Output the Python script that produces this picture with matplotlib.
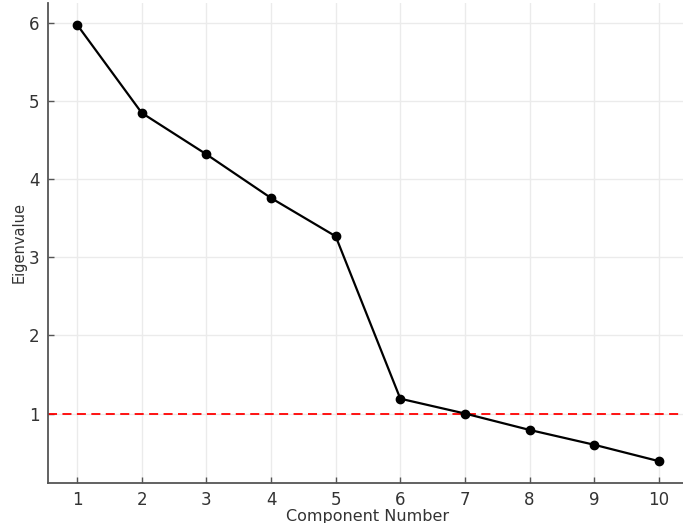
import numpy as np
import matplotlib
matplotlib.use("Agg")
import matplotlib.pyplot as plt

# scree plot data
components = [1, 2, 3, 4, 5, 6, 7, 8, 9, 10]
eigenvalues = [5.98, 4.85, 4.32, 3.76, 3.27, 1.19, 1.0, 0.79, 0.60, 0.39]
kaiser_cut = 1.0

fig = plt.figure(figsize=(6.83, 5.23), dpi=100)
# axes runs a bit past the right/top edge, like the cropped original
ax = fig.add_axes([0.0703, 0.0765, 0.937, 0.918])

ax.plot(components, eigenvalues, color='black', linewidth=1.6,
        marker='o', markersize=6, zorder=3)
ax.axhline(kaiser_cut, color='red', linestyle=(0, (5, 3)), linewidth=1.3, zorder=2)

ax.set_xticks(components)
ax.set_yticks([1, 2, 3, 4, 5, 6])
ax.grid(True, color='#ebebeb', linewidth=1.0)
ax.set_axisbelow(True)

for side in ['top', 'right']:
    ax.spines[side].set_visible(False)
for side in ['left', 'bottom']:
    ax.spines[side].set_color('#555555')
    ax.spines[side].set_linewidth(1.3)

ax.tick_params(direction='in', length=4, width=1, color='#555555',
               labelsize=12, labelcolor='#333333', pad=6)

ax.set_xlabel('Component Number', fontsize=11.5, color='#333333', labelpad=0)
ax.set_ylabel('Eigenvalue', fontsize=10.5, color='#333333', labelpad=2)

fig.savefig('out.png', dpi=100)
